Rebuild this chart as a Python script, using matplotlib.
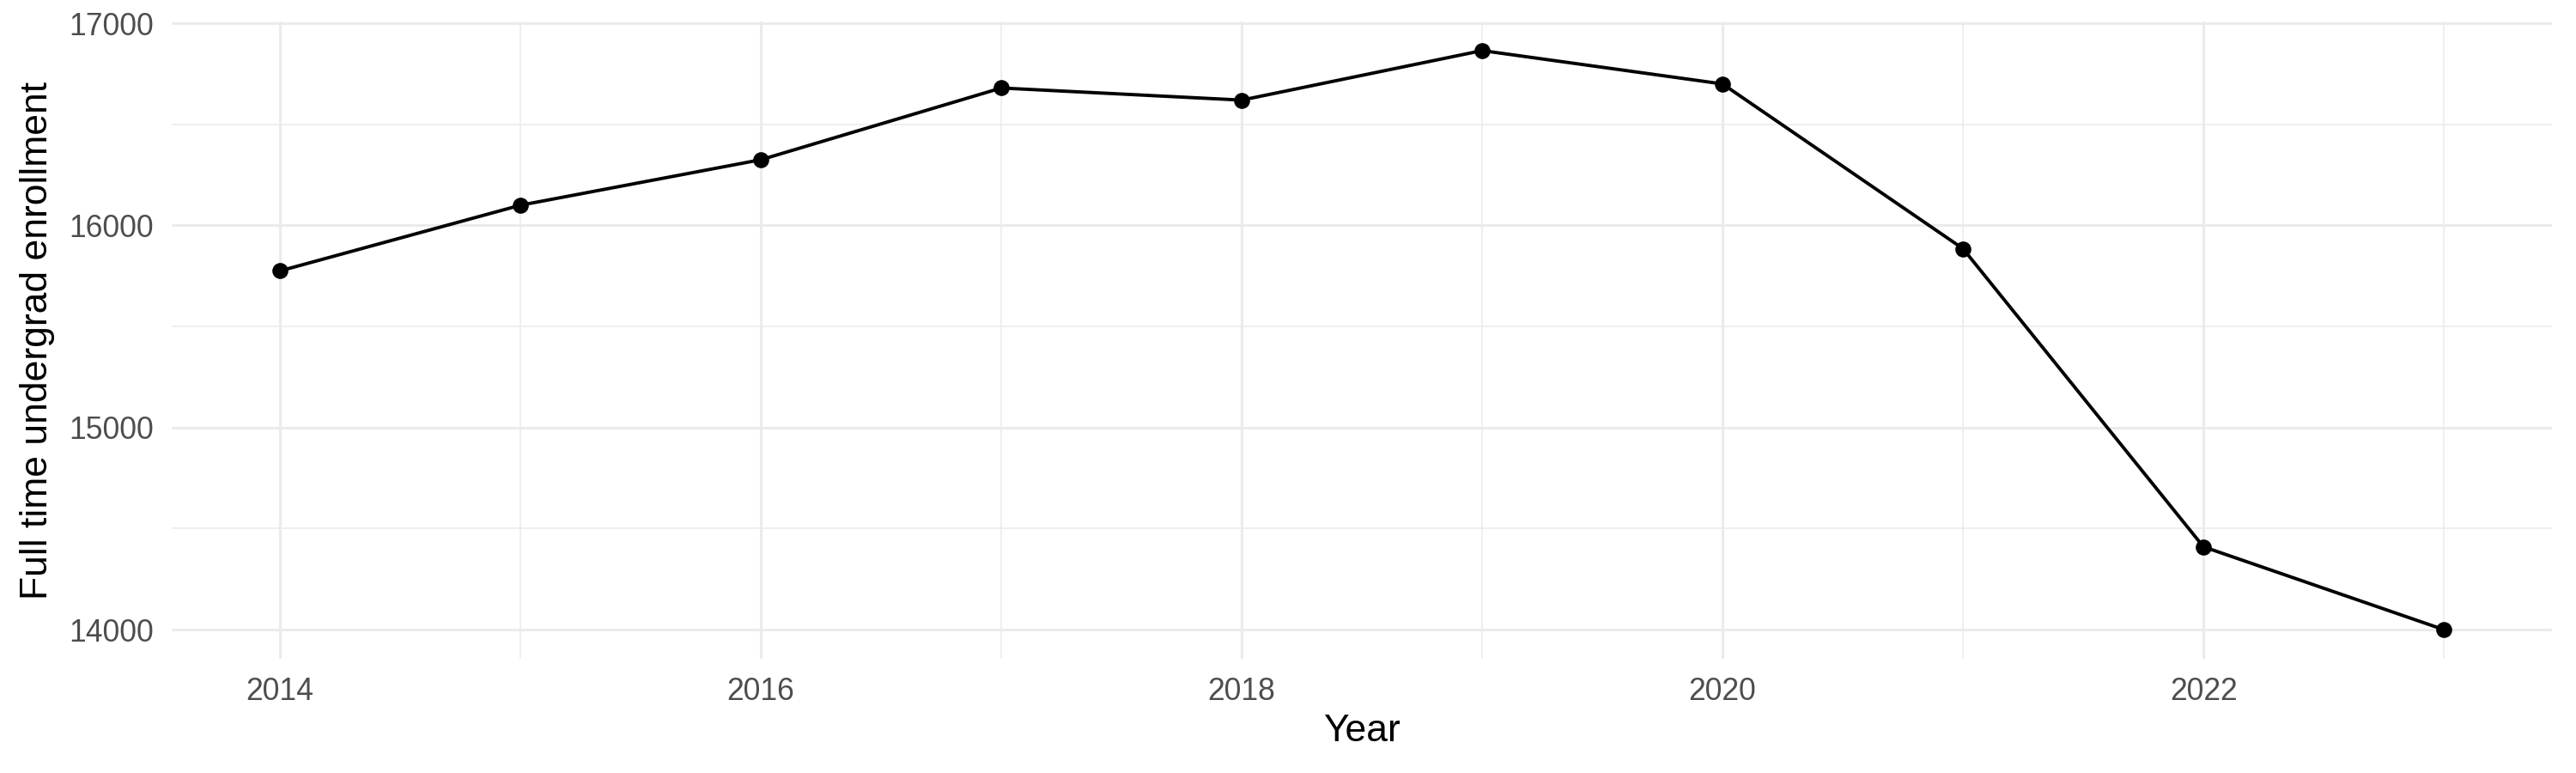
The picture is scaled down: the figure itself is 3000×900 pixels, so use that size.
import matplotlib
matplotlib.use('Agg')
import matplotlib.pyplot as plt
from matplotlib.ticker import MultipleLocator

plt.rcParams['font.family'] = ['Liberation Sans', 'DejaVu Sans']

# DATA
years = [2014, 2015, 2016, 2017, 2018, 2019, 2020, 2021, 2022, 2023]
enrollment = [15775, 16100, 16325, 16680, 16620, 16865, 16700, 15885, 14410, 14000]

fig = plt.figure(figsize=(15, 4.5), dpi=200)
ax = fig.add_axes([0.0667, 0.148, 0.924, 0.824])

ax.plot(years, enrollment, color='black', lw=1.4, zorder=3)
ax.scatter(years, enrollment, color='black', s=45, zorder=4, linewidths=0)

span = max(years) - min(years)
ax.set_xlim(min(years) - 0.05 * span, max(years) + 0.05 * span)
yspan = max(enrollment) - min(enrollment)
ax.set_ylim(min(enrollment) - 0.05 * yspan, max(enrollment) + 0.05 * yspan)

ax.xaxis.set_major_locator(MultipleLocator(2))
ax.xaxis.set_minor_locator(MultipleLocator(1))
ax.yaxis.set_major_locator(MultipleLocator(1000))
ax.yaxis.set_minor_locator(MultipleLocator(500))

ax.grid(which='major', color='#EBEBEB', lw=1.1)
ax.grid(which='minor', color='#EBEBEB', lw=0.55)
ax.set_axisbelow(True)
for s in ax.spines.values():
    s.set_visible(False)
ax.tick_params(which='both', length=0)
ax.tick_params(axis='both', labelsize=12.8, labelcolor='#4D4D4D')
ax.tick_params(axis='x', pad=7.5)
ax.tick_params(axis='y', pad=7.5)

ax.set_xlabel('Year', fontsize=16, color='black', labelpad=3)
ax.set_ylabel('Full time undergrad enrollment', fontsize=16, color='black', labelpad=6)

fig.savefig('out.png', dpi=200, facecolor='white')
